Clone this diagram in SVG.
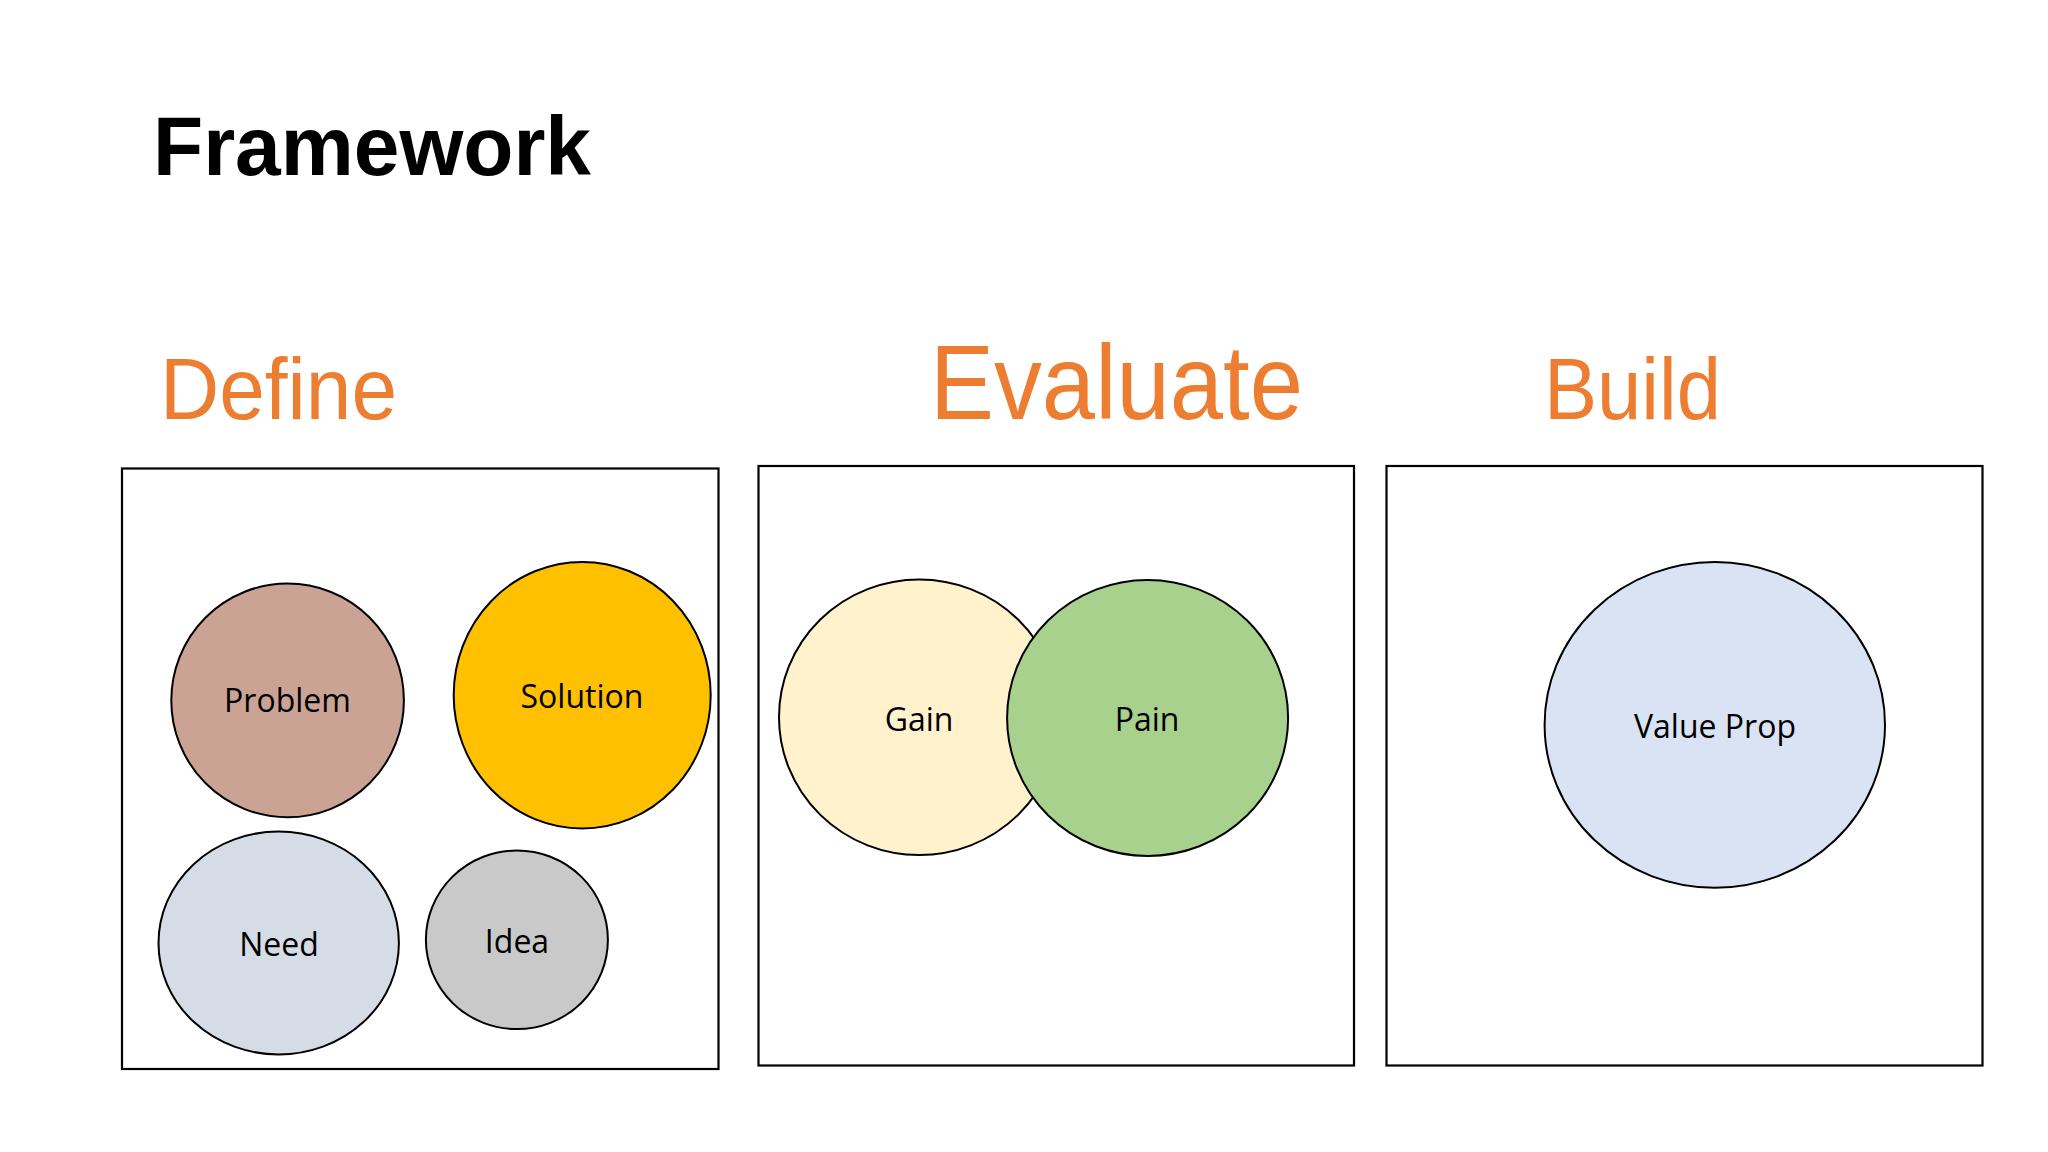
<svg xmlns="http://www.w3.org/2000/svg" width="2048" height="1152" viewBox="0 0 2048 1152">
  <style>
    .title { font-family: "Liberation Sans", Arial, sans-serif; font-weight: bold; fill: #000000; }
    .head { font-family: "Liberation Sans", Arial, sans-serif; fill: #ED7D31; }
    .box { fill: #FFFFFF; stroke: #000000; stroke-width: 2.2; }
    .node { stroke: #000000; stroke-width: 2; }
    .label { font-family: "Open Sans", "Liberation Sans", sans-serif; font-size: 32px; fill: #000000; text-anchor: middle; }
  </style>
  <rect width="2048" height="1152" fill="#FFFFFF"/>

  <text class="title" x="153" y="175" font-size="83" textLength="438" lengthAdjust="spacingAndGlyphs">Framework</text>

  <g id="define-section">
    <text class="head" x="160" y="419" font-size="87" textLength="237" lengthAdjust="spacingAndGlyphs">Define</text>
    <rect class="box" x="122" y="468.5" width="596.5" height="600.5"/>
  </g>
  <g id="evaluate-section">
    <text class="head" x="930" y="419" font-size="105" textLength="373" lengthAdjust="spacingAndGlyphs">Evaluate</text>
    <rect class="box" x="758.5" y="466" width="595.5" height="599.5"/>
  </g>
  <g id="build-section">
    <text class="head" x="1544" y="419" font-size="87" textLength="177" lengthAdjust="spacingAndGlyphs">Build</text>
    <rect class="box" x="1386.5" y="466" width="596" height="599.5"/>
  </g>

  <g id="problem">
    <ellipse class="node" cx="287.6" cy="700.4" rx="116.3" ry="116.9" fill="#CAA395"/>
    <text class="label" x="287.5" y="712">Problem</text>
  </g>
  <g id="solution">
    <ellipse class="node" cx="582.2" cy="695.2" rx="128.5" ry="133.3" fill="#FFC000"/>
    <text class="label" x="582" y="708">Solution</text>
  </g>
  <g id="need">
    <ellipse class="node" cx="278.7" cy="943" rx="120.2" ry="111.5" fill="#D6DCE5"/>
    <text class="label" x="279" y="956">Need</text>
  </g>
  <g id="idea">
    <ellipse class="node" cx="516.9" cy="939.8" rx="91" ry="89.3" fill="#C9C9C9"/>
    <text class="label" x="517" y="952.5">Idea</text>
  </g>

  <g id="gain">
    <ellipse class="node" cx="919.2" cy="717.2" rx="140.2" ry="137.8" fill="#FFF2CC"/>
    <text class="label" x="919" y="730.7">Gain</text>
  </g>
  <g id="pain">
    <ellipse class="node" cx="1147.6" cy="717.9" rx="140.5" ry="138" fill="#A9D18E"/>
    <text class="label" x="1147" y="730.7">Pain</text>
  </g>

  <g id="value-prop">
    <ellipse class="node" cx="1714.8" cy="724.9" rx="170.2" ry="162.9" fill="#DAE3F3"/>
    <text class="label" x="1715" y="738">Value Prop</text>
  </g>

  <g id="connectors"></g>
</svg>
